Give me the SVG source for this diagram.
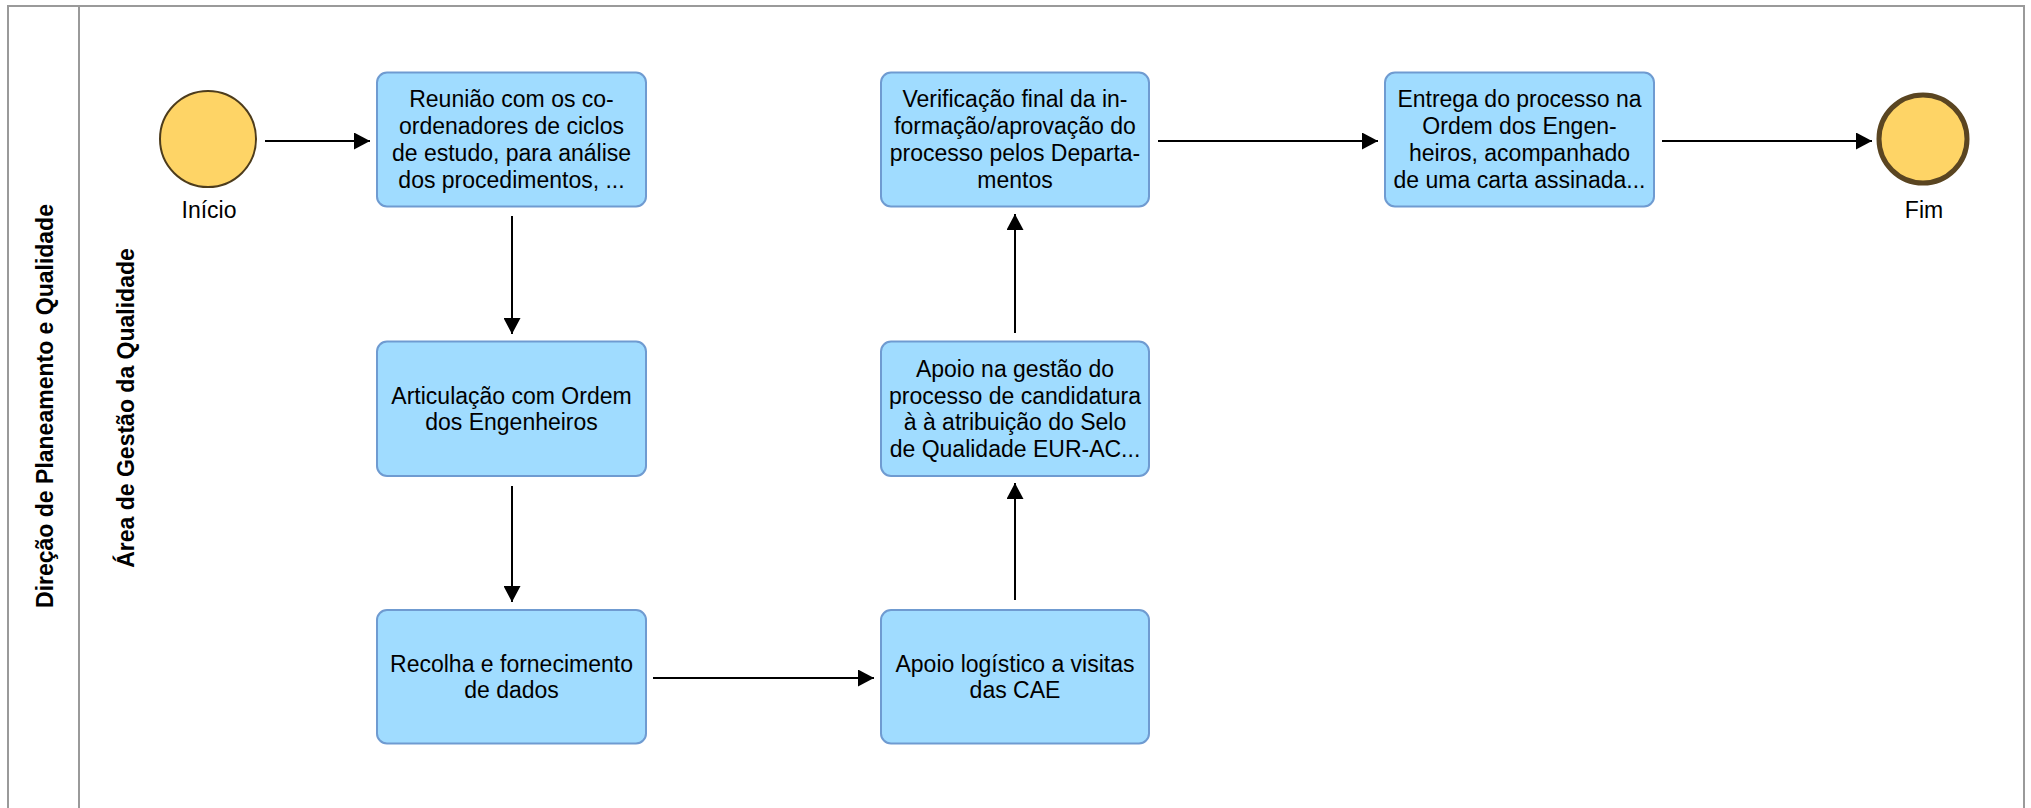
<svg xmlns="http://www.w3.org/2000/svg" width="2031" height="808" viewBox="0 0 2031 808">
<defs>
<style>
.lane{fill:none;stroke:#9a9a9a;stroke-width:2}
.task{fill:#a0dcff;stroke:#6f9bd1;stroke-width:2}
.t{font-family:"Liberation Sans",Arial,sans-serif;font-size:23px;fill:#000;text-anchor:middle}
.lt{font-family:"Liberation Sans",Arial,sans-serif;font-size:23px;font-weight:bold;fill:#000;text-anchor:middle}
.c{stroke:#000;stroke-width:2;fill:none;marker-end:url(#ah)}
</style>
<marker id="ah" markerUnits="userSpaceOnUse" markerWidth="17" markerHeight="17" refX="16" refY="8.5" orient="auto">
<path d="M0,0 L16,8.5 L0,17 z" fill="#000"/>
</marker>
</defs>
<rect width="2031" height="808" fill="#fff"/>
<g id="pool">
<path class="lane" d="M8,812 V6 H2024 V812"/>
<path class="lane" d="M79,6 V812"/>
<text class="lt" transform="translate(53,406) rotate(-90)">Direção de Planeamento e Qualidade</text>
<text class="lt" transform="translate(134,408) rotate(-90)">Área de Gestão da Qualidade</text>
</g>
<g id="connectors">
<line class="c" x1="265" y1="141" x2="370" y2="141"/>
<line class="c" x1="512" y1="216" x2="512" y2="334"/>
<line class="c" x1="512" y1="486" x2="512" y2="602"/>
<line class="c" x1="653" y1="678" x2="874" y2="678"/>
<line class="c" x1="1015" y1="600" x2="1015" y2="483"/>
<line class="c" x1="1015" y1="333" x2="1015" y2="214"/>
<line class="c" x1="1158" y1="141" x2="1378" y2="141"/>
<line class="c" x1="1662" y1="141" x2="1872" y2="141"/>
</g>
<g id="start">
<circle cx="208" cy="139" r="48" fill="#fed466" stroke="#4d3c1c" stroke-width="2"/>
<text class="t" x="209" y="218">Início</text>
</g>
<g id="end">
<circle cx="1923" cy="139" r="44" fill="#fed466" stroke="#5a4521" stroke-width="5"/>
<text class="t" x="1924" y="218">Fim</text>
</g>
<g id="task1">
<rect class="task" x="377" y="72.5" width="269" height="134" rx="10"/>
<text class="t" x="511.5" y="107.3">Reunião com os co-</text>
<text class="t" x="511.5" y="134.1">ordenadores de ciclos</text>
<text class="t" x="511.5" y="160.9">de estudo, para análise</text>
<text class="t" x="511.5" y="187.7">dos procedimentos, ...</text>
</g>
<g id="task2">
<rect class="task" x="377" y="341.5" width="269" height="134.5" rx="10"/>
<text class="t" x="511.5" y="403.6">Articulação com Ordem</text>
<text class="t" x="511.5" y="430.4">dos Engenheiros</text>
</g>
<g id="task3">
<rect class="task" x="377" y="610" width="269" height="133.5" rx="10"/>
<text class="t" x="511.5" y="671.6">Recolha e fornecimento</text>
<text class="t" x="511.5" y="698.4">de dados</text>
</g>
<g id="task4">
<rect class="task" x="881" y="610" width="268" height="133.5" rx="10"/>
<text class="t" x="1015" y="671.6">Apoio logístico a visitas</text>
<text class="t" x="1015" y="698.4">das CAE</text>
</g>
<g id="task5">
<rect class="task" x="881" y="341.5" width="268" height="134.5" rx="10"/>
<text class="t" x="1015" y="376.7">Apoio na gestão do</text>
<text class="t" x="1015" y="403.5">processo de candidatura</text>
<text class="t" x="1015" y="430.3">à à atribuição do Selo</text>
<text class="t" x="1015" y="457.1">de Qualidade EUR-AC...</text>
</g>
<g id="task6">
<rect class="task" x="881" y="72.5" width="268" height="134" rx="10"/>
<text class="t" x="1015" y="107.3">Verificação final da in-</text>
<text class="t" x="1015" y="134.1">formação/aprovação do</text>
<text class="t" x="1015" y="160.9">processo pelos Departa-</text>
<text class="t" x="1015" y="187.7">mentos</text>
</g>
<g id="task7">
<rect class="task" x="1385" y="72.5" width="269" height="134" rx="10"/>
<text class="t" x="1519.5" y="107.3">Entrega do processo na</text>
<text class="t" x="1519.5" y="134.1">Ordem dos Engen-</text>
<text class="t" x="1519.5" y="160.9">heiros, acompanhado</text>
<text class="t" x="1519.5" y="187.7">de uma carta assinada...</text>
</g>
</svg>
